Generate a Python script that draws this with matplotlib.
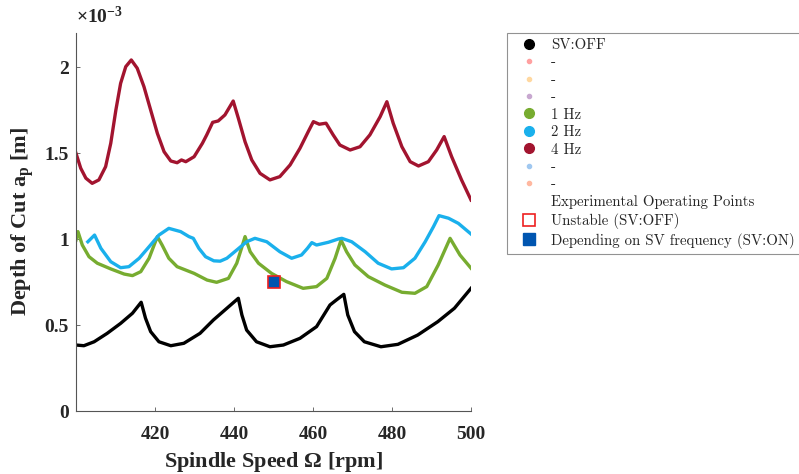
import numpy as np
import matplotlib
matplotlib.use('Agg')
import matplotlib.pyplot as plt
from matplotlib.lines import Line2D

plt.rcParams['font.family'] = ['Liberation Serif', 'DejaVu Serif']
plt.rcParams['mathtext.fontset'] = 'custom'
plt.rcParams['mathtext.rm'] = 'Liberation Serif:bold'
plt.rcParams['mathtext.bf'] = 'Liberation Serif:bold'
plt.rcParams['mathtext.it'] = 'Liberation Serif:bold'

# depth of cut values in units of 1e-3 m, spindle speed in rpm
off_x = [400, 402, 404.6, 407.9, 411.3, 414.3, 416.5, 417.6, 418.9, 421, 424, 427.3,
         431.4, 434.8, 438.2, 441.1, 442, 443.2, 445.7, 449.1, 452.5, 456.7, 460.9,
         464.3, 465.9, 467.8, 468.8, 470.5, 473, 477.2, 481.5, 486.5, 491.6, 495.8, 500]
off_y = [0.384, 0.38, 0.403, 0.452, 0.51, 0.569, 0.633, 0.54, 0.462, 0.403, 0.38, 0.394,
         0.452, 0.53, 0.598, 0.656, 0.559, 0.471, 0.403, 0.374, 0.384, 0.423, 0.491,
         0.617, 0.646, 0.679, 0.559, 0.462, 0.403, 0.374, 0.388, 0.442, 0.52, 0.598, 0.714]

f1_x = [400, 400.5, 401.6, 403.3, 405.4, 408.8, 412.2, 414.3, 416.4, 418.5, 420.6,
        421.8, 423.5, 425.6, 429.9, 433.2, 435.6, 438.6, 440.7, 441.9, 442.8, 444.1,
        446.2, 449.5, 453.3, 457.5, 460.9, 463.5, 465.6, 467.1, 468.5, 470.6, 474,
        478.2, 482.5, 485.8, 488.8, 491.7, 494.7, 497.2, 500]
f1_y = [0.995, 1.044, 0.966, 0.898, 0.86, 0.827, 0.797, 0.788, 0.811, 0.889, 1.015,
        0.966, 0.889, 0.84, 0.801, 0.762, 0.749, 0.772, 0.86, 0.947, 1.015, 0.927,
        0.86, 0.801, 0.753, 0.714, 0.724, 0.772, 0.889, 0.995, 0.927, 0.85, 0.782,
        0.733, 0.691, 0.685, 0.724, 0.85, 1.005, 0.908, 0.831]

f2_x = [403, 404.7, 406.3, 408.8, 411.3, 413.4, 416, 418.5, 421, 423.5, 426.5, 428.6,
        429.7, 431.1, 432.8, 434.9, 436.5, 438.2, 440.7, 443.2, 445.3, 448.3, 451.6,
        454.6, 457.1, 458.6, 459.7, 460.9, 463.9, 466.4, 467.3, 469.8, 473.2, 476.5,
        479.9, 482.9, 485.8, 488.4, 490.5, 491.9, 494.3, 496.8, 500]
f2_y = [0.985, 1.024, 0.947, 0.869, 0.834, 0.84, 0.889, 0.956, 1.024, 1.063, 1.044,
        1.015, 1.005, 0.947, 0.898, 0.874, 0.872, 0.889, 0.937, 0.985, 1.005, 0.985,
        0.927, 0.889, 0.908, 0.947, 0.98, 0.966, 0.982, 1.001, 1.005, 0.985, 0.927,
        0.86, 0.827, 0.834, 0.889, 0.985, 1.073, 1.137, 1.122, 1.092, 1.030]

f4_x = [400, 401.2, 402.5, 404.1, 405.8, 407.5, 408.8, 410.1, 411.3, 412.6, 414,
        415.5, 417.2, 418.9, 420.6, 422.3, 424, 425.6, 426.7, 427.8, 429.9, 432,
        433.1, 434.6, 436, 437.7, 439.8, 441.1, 442.8, 444.5, 446.6, 449.1, 451.6,
        454.2, 456.7, 458.8, 460.1, 461.6, 463.3, 465.1, 466.8, 469.4, 471.9, 474.4,
        477, 478.7, 480.3, 482.5, 484.6, 486.7, 489.2, 491.3, 493.2, 495.1, 497.6, 500]
f4_y = [1.50, 1.413, 1.355, 1.325, 1.345, 1.422, 1.558, 1.752, 1.907, 2.004, 2.043,
        1.995, 1.888, 1.752, 1.616, 1.509, 1.455, 1.445, 1.461, 1.451, 1.48, 1.558,
        1.607, 1.68, 1.688, 1.723, 1.804, 1.704, 1.567, 1.461, 1.383, 1.345, 1.364,
        1.432, 1.529, 1.626, 1.684, 1.669, 1.675, 1.607, 1.548, 1.519, 1.538, 1.607,
        1.713, 1.80, 1.675, 1.538, 1.451, 1.426, 1.451, 1.519, 1.597, 1.48, 1.345, 1.228]

exp_x = [450.1]
exp_y = [0.749]

fig = plt.figure(figsize=(7.99, 4.74), dpi=100)
ax = fig.add_axes([0.0951, 0.1329, 0.4944, 0.7975])

lw = 2.4
ax.plot(off_x, off_y, color='k', lw=lw, solid_joinstyle='round')
ax.plot(f1_x, f1_y, color='#77ac30', lw=lw, solid_joinstyle='round')
ax.plot(f2_x, f2_y, color='#1ab0ec', lw=lw, solid_joinstyle='round')
ax.plot(f4_x, f4_y, color='#a2142f', lw=lw, solid_joinstyle='round')
ax.plot(exp_x, exp_y, 's', ms=8, mfc='#0055b0', mec='#ee2020', mew=1.2)

ax.set_xlim(400, 500)
ax.set_ylim(0, 2.2)
ax.set_xticks([420, 440, 460, 480, 500])
ax.set_yticks([0, 0.5, 1, 1.5, 2])
ax.set_yticklabels(['0', '0.5', '1', '1.5', '2'])
for s in ['top', 'right']:
    ax.spines[s].set_visible(False)
for s in ['left', 'bottom']:
    ax.spines[s].set_color('#555555')
    ax.spines[s].set_linewidth(0.8)
ax.tick_params(direction='in', length=3, width=0.6, color='#555555', labelsize=14)
ax.tick_params(axis='x', pad=11)
ax.tick_params(axis='y', pad=5)
for lab in ax.get_xticklabels() + ax.get_yticklabels():
    lab.set_fontweight('bold')
    lab.set_color('#262626')

ax.set_xlabel(r'Spindle Speed $\Omega$ [rpm]', fontsize=16, fontweight='bold',
              color='#262626', labelpad=5)
ax.set_ylabel(r'Depth of Cut a$_{\mathrm{p}}$ [m]', fontsize=16, fontweight='bold',
              color='#262626', labelpad=6)
ax.text(0.0, 1.015, r'$\times$10$^{\mathrm{-3}}$', transform=ax.transAxes,
        fontsize=14, fontweight='bold', color='#262626', ha='left', va='bottom')

handles = [
    Line2D([], [], ls='none', marker='o', ms=7, color='k'),
    Line2D([], [], ls='none', marker='o', ms=3, color='#ffa0a0'),
    Line2D([], [], ls='none', marker='o', ms=3, color='#ffd8a0'),
    Line2D([], [], ls='none', marker='o', ms=3, color='#c8a8d0'),
    Line2D([], [], ls='none', marker='o', ms=7, color='#77ac30'),
    Line2D([], [], ls='none', marker='o', ms=7, color='#1ab0ec'),
    Line2D([], [], ls='none', marker='o', ms=7, color='#a2142f'),
    Line2D([], [], ls='none', marker='o', ms=3, color='#a0c8f0'),
    Line2D([], [], ls='none', marker='o', ms=3, color='#ffb8a0'),
    Line2D([], [], ls='none', marker=None),
    Line2D([], [], ls='none', marker='s', ms=8, mfc='white', mec='#ee2020', mew=1.2),
    Line2D([], [], ls='none', marker='s', ms=8, mfc='#0055b0', mec='#0055b0'),
]
labels = ['SV:OFF', '-', '-', '-', '1 Hz', '2 Hz', '4 Hz', '-', '-',
          'Experimental Operating Points', 'Unstable (SV:OFF)',
          'Depending on SV frequency (SV:ON)']
leg = fig.legend(handles, labels, loc='upper left',
                 bbox_to_anchor=(507 / 799, 1 - 33 / 474),
                 prop={'family': ['cmr10', 'DejaVu Serif'], 'size': 10.7},
                 frameon=True, fancybox=False, edgecolor='#777777',
                 handlelength=2.2, handletextpad=0.42, labelspacing=0.25,
                 borderpad=0.35, borderaxespad=0)
leg.get_frame().set_linewidth(0.8)
for t in leg.get_texts():
    t.set_color('#262626')

fig.savefig('out.png', dpi=100)
